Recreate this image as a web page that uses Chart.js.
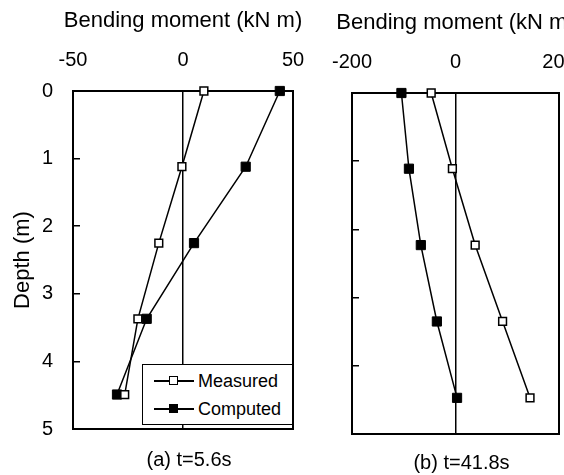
<!DOCTYPE html>
<html>
<head>
<meta charset="utf-8">
<script src="https://cdn.jsdelivr.net/npm/chart.js@4.4.1/dist/chart.umd.min.js"></script>
<style>
  body { margin: 0; background: #fff; }
  .wrap { position: relative; width: 564px; height: 475px; overflow: hidden; font-family: 'Liberation Sans', Arial, sans-serif; }
  .wrap canvas { position: absolute; left: 0; top: 0; }
  .legend { position: absolute; left: 142px; top: 364px; width: 149px; height: 59px; border: 1.5px solid #000; background: #fff; }
  .legend .row { position: absolute; left: 0; height: 20px; font-size: 18px; line-height: 20px; color: #000; }
  .legend .ln { position: absolute; left: 11px; top: 9px; width: 40px; height: 1.5px; background: #000; }
  .legend .mk { position: absolute; left: 26px; top: 5px; width: 7px; height: 7px; border: 1.5px solid #000; }
  .legend .txt { position: absolute; left: 55px; top: 0; white-space: nowrap; }
</style>
</head>
<body>
<div class="wrap">
  <canvas id="chartA" width="564" height="475"></canvas>
  <canvas id="chartB" width="640" height="475"></canvas>
  <div class="legend">
    <div class="row" style="top:6px"><div class="ln"></div><div class="mk" style="background:#fff"></div><div class="txt">Measured</div></div>
    <div class="row" style="top:34px"><div class="ln"></div><div class="mk" style="background:#000"></div><div class="txt">Computed</div></div>
  </div>
</div>
<script>
// data
const depthA = [0, 1.12, 2.25, 3.37, 4.49]
const measuredA = [9.5, -0.5, -11, -20.5, -26.5]
const computedA = [44, 28.5, 5, -16.5, -30]

const depthB = [0, 1.11, 2.23, 3.35, 4.47]
const measuredB = [-47, -6, 38, 91, 144]
const computedB = [-104.5, -90, -67, -36, 3]

const xTicksA = [-50, 0, 50]
const xTicksB = [-200, 0, 200]
const depthTicks = [0, 1, 2, 3, 4, 5]

const FONT = "'Liberation Sans', Arial, sans-serif"
Chart.defaults.color = '#000'
Chart.defaults.font.family = FONT

function pts(xs, ys) {
    return xs.map(function (x, i) { return { x: x, y: ys[i] } })
}

// box around the plot area
const framePlugin = {
    id: 'frame',
    beforeDatasetsDraw(chart) {
        const a = chart.chartArea
        const ctx = chart.ctx
        ctx.save()
        ctx.strokeStyle = '#000'
        ctx.lineWidth = 2
        ctx.strokeRect(a.left, a.top, a.right - a.left, a.bottom - a.top)
        ctx.restore()
    }
}

// axis title and panel caption, drawn without the width squeeze of scale titles
const captionPlugin = {
    id: 'captions',
    afterDraw(chart, args, opts) {
        const a = chart.chartArea
        const mid = (a.left + a.right) / 2
        const ctx = chart.ctx
        ctx.save()
        ctx.fillStyle = '#000'
        ctx.textAlign = 'center'
        ctx.textBaseline = 'middle'
        ctx.font = '22px ' + FONT
        ctx.fillText(opts.title, mid, a.top - 70)
        ctx.font = '20px ' + FONT
        ctx.fillText(opts.caption, mid + 6, a.bottom + opts.captionGap)
        ctx.restore()
    }
}

function makeChart(id, cfg) {
    const measured = {
        label: 'Measured',
        data: pts(cfg.measured, cfg.depth),
        showLine: true,
        borderColor: '#000',
        borderWidth: 1.5,
        pointStyle: 'rect',
        pointRadius: 5.5,
        pointBorderWidth: 1.5,
        pointBackgroundColor: '#fff',
        pointBorderColor: '#000',
        clip: false
    }
    const computed = {
        label: 'Computed',
        data: pts(cfg.computed, cfg.depth),
        showLine: true,
        borderColor: '#000',
        borderWidth: 1.5,
        pointStyle: 'rect',
        pointRadius: 6.5,
        pointBorderWidth: 1,
        pointBackgroundColor: '#000',
        pointBorderColor: '#000',
        clip: false
    }
    return new Chart(document.getElementById(id), {
        type: 'scatter',
        data: { datasets: [measured, computed] },
        plugins: [framePlugin, captionPlugin],
        options: {
            responsive: false,
            animation: false,
            layout: { padding: { left: 0, right: cfg.padRight, top: 0, bottom: cfg.bottom } },
            plugins: {
                legend: { display: false },
                tooltip: { enabled: false },
                captions: { title: 'Bending moment (kN m)', caption: cfg.caption, captionGap: cfg.captionGap }
            },
            scales: {
                x: {
                    type: 'linear',
                    position: 'top',
                    min: cfg.xTicks[0],
                    max: cfg.xTicks[cfg.xTicks.length - 1],
                    afterBuildTicks: function (s) { s.ticks = cfg.xTicks.map(function (v) { return { value: v } }) },
                    afterFit: function (s) { s.height = cfg.top },
                    ticks: { font: { size: 20 }, padding: 19 },
                    border: { display: false },
                    grid: {
                        drawTicks: false,
                        lineWidth: 1.5,
                        color: function (c) { return c.tick && c.tick.value === 0 ? '#000' : 'rgba(0,0,0,0)' }
                    }
                },
                y: {
                    type: 'linear',
                    position: 'left',
                    reverse: true,
                    min: 0,
                    max: 5,
                    afterBuildTicks: function (s) { s.ticks = depthTicks.map(function (v) { return { value: v } }) },
                    afterFit: function (s) { s.width = cfg.left },
                    title: { display: cfg.showDepth, text: 'Depth (m)', font: { size: 22 }, padding: { top: 10, bottom: 0 } },
                    ticks: { display: cfg.showDepth, font: { size: 20 }, padding: 27 },
                    border: { display: false },
                    grid: { drawOnChartArea: false, tickLength: -7, color: '#000', lineWidth: 1.5 }
                }
            }
        }
    })
}

makeChart('chartA', {
    depth: depthA, measured: measuredA, computed: computedA,
    xTicks: xTicksA, caption: '(a) t=5.6s', captionGap: 31, showDepth: true,
    left: 73, padRight: 271, top: 91, bottom: 46
})

// canvas is wider than the page so the clipped right edge matches the figure
makeChart('chartB', {
    depth: depthB, measured: measuredB, computed: computedB,
    xTicks: xTicksB, caption: '(b) t=41.8s', captionGap: 29, showDepth: false,
    left: 352, padRight: 81, top: 93, bottom: 41
})
</script>
</body>
</html>
